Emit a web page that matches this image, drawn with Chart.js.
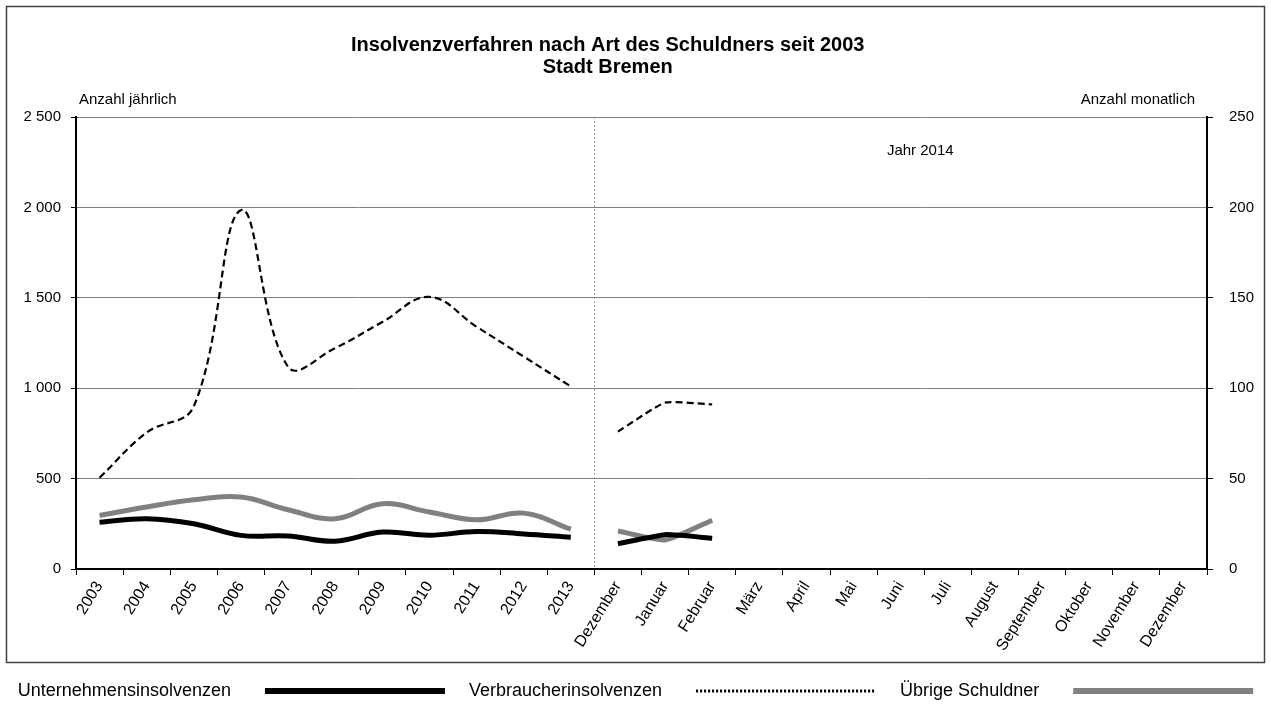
<!DOCTYPE html>
<html>
<head>
<meta charset="utf-8">
<script src="https://cdn.jsdelivr.net/npm/chart.js@4.4.0/dist/chart.umd.min.js"></script>
<style>
  html, body { margin: 0; padding: 0; background: #fff; }
  #wrap { width: 1271px; height: 704px; }
</style>
</head>
<body>
<div id="wrap"><canvas id="chart" width="1271" height="704"></canvas></div>
<script>
// categories: 11 years, then Dec 2013 + 12 months of 2014
const categories = ['2003', '2004', '2005', '2006', '2007', '2008', '2009', '2010', '2011', '2012', '2013',
    'Dezember', 'Januar', 'Februar', 'März', 'April', 'Mai', 'Juni', 'Juli', 'August',
    'September', 'Oktober', 'November', 'Dezember'];

// yearly values (left axis)
const unternehmenJahr = [258, 278, 250, 186, 183, 154, 204, 187, 207, 194, 176];
const verbraucherJahr = [505, 755, 900, 1985, 1118, 1222, 1366, 1505, 1340, 1175, 1010];
const uebrigeJahr = [296, 343, 383, 398, 328, 278, 361, 315, 272, 309, 220];

// monthly values (right axis), Dezember 2013 .. Februar 2014
const unternehmenMonat = [14, 19, 17];
const verbraucherMonat = [76, 92, 91];
const uebrigeMonat = [21, 16, 27];

const seriesNames = ['Unternehmensinsolvenzen', 'Verbraucherinsolvenzen', 'Übrige Schuldner'];

const titleLines = ['Insolvenzverfahren nach Art des Schuldners seit 2003', 'Stadt Bremen'];
const leftAxisLabel = 'Anzahl jährlich';
const rightAxisLabel = 'Anzahl monatlich';
const yearNote = 'Jahr 2014';

const FONT = '"Liberation Sans", Arial, sans-serif';
const GRAY = '#808080';

function yearly(arr) {
    return categories.map((c, i) => i < arr.length ? arr[i] : null);
}
function monthly(arr) {
    return categories.map((c, i) => (i >= 11 && i < 11 + arr.length) ? arr[i - 11] : null);
}
function fmt(v) {
    return String(v).replace(/\B(?=(\d{3})+(?!\d))/g, ' ');
}

const styles = [
    { borderColor: '#000', borderWidth: 5, borderDash: [] },
    { borderColor: '#000', borderWidth: 2.2, borderDash: [7, 4] },
    { borderColor: GRAY, borderWidth: 5, borderDash: [] }
];

const datasets = [];
[unternehmenJahr, verbraucherJahr, uebrigeJahr].forEach((arr, i) => {
    datasets.push(Object.assign({ label: seriesNames[i], data: yearly(arr), yAxisID: 'y', tension: 0.4 }, styles[i]));
});
[unternehmenMonat, verbraucherMonat, uebrigeMonat].forEach((arr, i) => {
    datasets.push(Object.assign({ label: seriesNames[i] + ' (Monat)', data: monthly(arr), yAxisID: 'y1', tension: 0.15 }, styles[i]));
});

const nb = n => '\u00a0'.repeat(n);

const decorPlugin = {
    id: 'decor',
    beforeDraw(chart) {
        const { ctx, width, height } = chart;
        ctx.save();
        ctx.fillStyle = '#fff';
        ctx.fillRect(0, 0, width, height);
        ctx.strokeStyle = '#404040';
        ctx.lineWidth = 1.5;
        ctx.strokeRect(6.5, 6.5, width - 13, chart.legend.top - 22);
        ctx.restore();
    },
    beforeDatasetsDraw(chart) {
        const { ctx, chartArea } = chart;
        const x = chart.scales.x;
        const xd = Math.round((x.getPixelForValue(10) + x.getPixelForValue(11)) / 2) + 0.5;
        ctx.save();
        ctx.strokeStyle = '#999';
        ctx.lineWidth = 1;
        ctx.setLineDash([2, 2]);
        ctx.beginPath();
        ctx.moveTo(xd, chartArea.top);
        ctx.lineTo(xd, chartArea.bottom);
        ctx.stroke();
        ctx.restore();
    },
    afterDraw(chart) {
        const { ctx, chartArea } = chart;
        const x = chart.scales.x, y = chart.scales.y;
        ctx.save();
        ctx.fillStyle = '#000';
        ctx.font = '15px ' + FONT;
        ctx.textBaseline = 'alphabetic';
        ctx.textAlign = 'left';
        ctx.fillText(leftAxisLabel, chartArea.left + 3, chartArea.top - 13);
        ctx.textAlign = 'right';
        ctx.fillText(rightAxisLabel, chartArea.right - 12, chartArea.top - 13);
        ctx.textAlign = 'center';
        ctx.textBaseline = 'middle';
        const xm = (x.getPixelForValue(12) + x.getPixelForValue(23)) / 2;
        ctx.fillText(yearNote, xm - 4, y.getPixelForValue(2310));
        ctx.restore();
    }
};

new Chart(document.getElementById('chart'), {
    type: 'line',
    data: { labels: categories, datasets: datasets },
    plugins: [decorPlugin],
    options: {
        responsive: false,
        animation: false,
        devicePixelRatio: 1,
        layout: { padding: { left: 10, right: 10, top: 6, bottom: -6 } },
        elements: {
            line: { fill: false, borderCapStyle: 'butt' },
            point: { radius: 0, hoverRadius: 0 }
        },
        plugins: {
            tooltip: { enabled: false },
            title: {
                display: true,
                text: [titleLines[0] + nb(10), titleLines[1] + nb(10)],
                color: '#000',
                font: { family: FONT, size: 20, weight: 'bold', lineHeight: 1.1 },
                padding: { top: 28, bottom: 39 }
            },
            legend: {
                position: 'bottom',
                rtl: true,
                align: 'center',
                labels: {
                    color: '#000',
                    font: { family: FONT, size: 18 },
                    usePointStyle: true,
                    pointStyleWidth: 180,
                    boxWidth: 180,
                    boxHeight: 6,
                    padding: 4,
                    generateLabels: () => {
                        const dashes = [[], [2, 2], []];
                        const widths = [6, 3, 6];
                        const colors = ['#000', '#000', GRAY];
                        const items = seriesNames.map((name, i) => ({
                            text: (i > 0 ? nb(4) : '') + name + nb(5),
                            fillStyle: 'rgba(0,0,0,0)',
                            strokeStyle: colors[i],
                            lineWidth: widths[i],
                            lineDash: dashes[i],
                            lineCap: 'butt',
                            pointStyle: 'line',
                            hidden: false,
                            datasetIndex: i
                        }));
                        return items.reverse();
                    }
                },
                onClick: () => {}
            }
        },
        scales: {
            x: {
                type: 'category',
                offset: true,
                grid: {
                    offset: true,
                    drawOnChartArea: false,
                    drawTicks: true,
                    tickLength: 6,
                    tickColor: '#000',
                    tickWidth: 1
                },
                border: { color: '#000', width: 2 },
                ticks: {
                    color: '#000',
                    font: { family: FONT, size: 16 },
                    minRotation: 58,
                    maxRotation: 58,
                    autoSkip: false,
                    padding: 3
                },
                afterFit: s => { s.height = 109; }
            },
            y: {
                position: 'left',
                min: 0,
                max: 2500,
                grid: {
                    color: GRAY,
                    lineWidth: 1,
                    tickColor: '#000',
                    tickLength: 5
                },
                border: { color: '#000', width: 2 },
                ticks: {
                    stepSize: 500,
                    color: '#000',
                    font: { family: FONT, size: 15 },
                    padding: 10,
                    callback: v => fmt(v)
                },
                afterFit: s => { s.width = 66; }
            },
            y1: {
                position: 'right',
                min: 0,
                max: 250,
                grid: {
                    drawOnChartArea: false,
                    tickColor: '#000',
                    tickLength: 6
                },
                border: { color: '#000', width: 2 },
                ticks: {
                    stepSize: 50,
                    color: '#000',
                    font: { family: FONT, size: 15 },
                    padding: 16,
                    callback: v => fmt(v)
                },
                afterFit: s => { s.width = 54; }
            }
        }
    }
});
</script>
</body>
</html>
